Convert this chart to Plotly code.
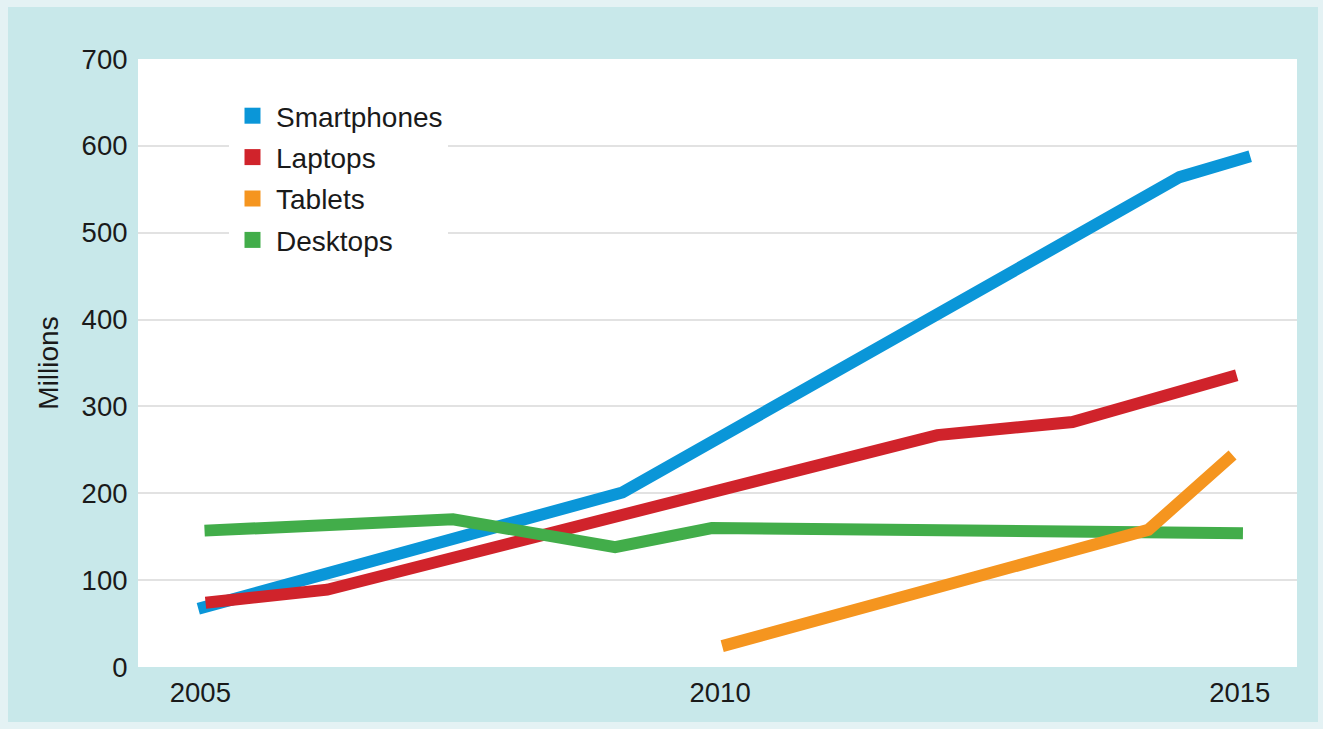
import plotly.graph_objects as go

# ---- data ----
series_names = ["Smartphones", "Laptops", "Tablets", "Desktops"]
series_colors = ["#0a96d8", "#d0232b", "#f5951f", "#42ad4a"]

smart_x = [2004.98, 2009.06, 2014.42, 2015.10]
smart_y = [67, 201, 564, 588]

laptop_x = [2005.05, 2006.22, 2012.09, 2013.39, 2014.97]
laptop_y = [74, 89, 267, 282, 336]

tablet_x = [2010.02, 2014.12, 2014.93]
tablet_y = [24, 158, 244]

desktop_x = [2005.04, 2007.43, 2008.99, 2009.92, 2015.03]
desktop_y = [157, 170, 138, 160, 154]

x_ticks = [2005, 2010, 2015]
y_ticks = [0, 100, 200, 300, 400, 500, 600, 700]

xs = [smart_x, laptop_x, tablet_x, desktop_x]
ys = [smart_y, laptop_y, tablet_y, desktop_y]

FONT = "Liberation Sans, Arial, Helvetica, sans-serif"
TEAL = "#c8e8ea"
BORDER = "#e4f2f4"

W, H = 1323, 729
ML, MR, MT, MB = 138, 26, 59, 62
PW = W - ML - MR
PH = H - MT - MB

fig = go.Figure()

# draw order (bottom -> top): smartphones, laptops, desktops, tablets
order = [0, 1, 3, 2]
for i in order:
    fig.add_trace(go.Scatter(
        x=xs[i], y=ys[i], mode="lines",
        line=dict(color=series_colors[i], width=12),
        showlegend=False, hoverinfo="skip",
    ))

# legend-only entries with square swatches
for i in range(4):
    fig.add_trace(go.Scatter(
        x=[None], y=[None], mode="markers", name=series_names[i],
        legendgroup=series_names[i],
        marker=dict(symbol="square", size=16, color=series_colors[i]),
    ))

def px_to_paper_x(px):
    return (px - ML) / PW

def px_to_paper_y(py):
    return (H - MB - py) / PH

shapes = [
    dict(type="rect", xref="paper", yref="paper", layer="below",
         x0=px_to_paper_x(8), x1=px_to_paper_x(1318),
         y0=px_to_paper_y(722), y1=px_to_paper_y(7),
         fillcolor=TEAL, line=dict(width=0)),
    dict(type="rect", xref="paper", yref="paper", layer="below",
         x0=0, x1=1, y0=0, y1=1,
         fillcolor="white", line=dict(width=0)),
]

fig.update_layout(
    width=W, height=H,
    margin=dict(l=ML, r=MR, t=MT, b=MB, autoexpand=False),
    paper_bgcolor=BORDER,
    plot_bgcolor="white",
    font=dict(family=FONT, size=28, color="#1a1a1a"),
    shapes=shapes,
    showlegend=True,
    legend=dict(
        x=px_to_paper_x(229), y=px_to_paper_y(91),
        xanchor="left", yanchor="top",
        bgcolor="white", borderwidth=0,
        font=dict(family=FONT, size=28, color="#1a1a1a"),
        tracegroupgap=2,
        itemwidth=37,
        entrywidth=246,
    ),
    xaxis=dict(
        range=[2004.40, 2015.55],
        tickmode="array", tickvals=x_ticks,
        ticktext=[str(v) for v in x_ticks],
        showgrid=False, zeroline=False, showline=False,
        ticks="outside", ticklen=1, tickcolor="rgba(0,0,0,0)",
        tickfont=dict(family=FONT, size=27.5, color="#1a1a1a"),
    ),
    yaxis=dict(
        range=[0, 700],
        tickmode="array", tickvals=y_ticks,
        ticktext=[str(v) for v in y_ticks],
        showgrid=True, gridcolor="#e2e2e2", gridwidth=1.5,
        zeroline=False, showline=False,
        ticks="outside", ticklen=4, tickcolor="rgba(0,0,0,0)",
        tickfont=dict(family=FONT, size=27.5, color="#1a1a1a"),
        title=dict(text="Millions", standoff=14,
                   font=dict(family=FONT, size=28, color="#1a1a1a")),
    ),
)

fig.write_html("out.html")
